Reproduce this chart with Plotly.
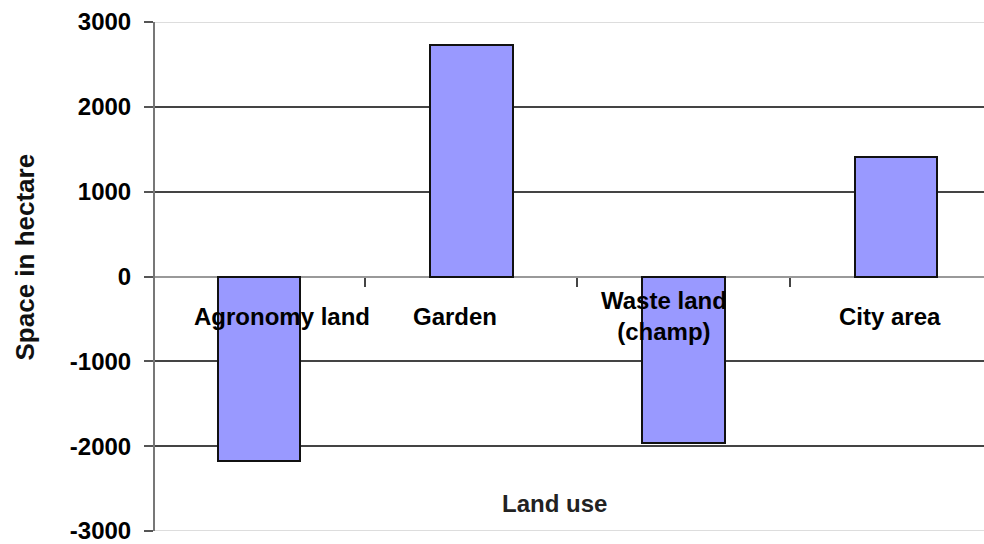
import plotly.graph_objects as go

categories = ["Agronomy land", "Garden", "Waste land<br>(champ)", "City area"]
values = [-2180, 2730, -1965, 1410]
y_ticks = [-3000, -2000, -1000, 0, 1000, 2000, 3000]
y_ticktext = ["-3000", "-2000", "-1000", "0", "1000", "2000", "3000"]
y_title = "Space in hectare"
x_title = "Land use"

FONT = "Liberation Sans, Arial, Helvetica, sans-serif"

fig = go.Figure()
fig.add_trace(go.Bar(
    x=categories, y=values, width=0.39,
    marker=dict(color="#9999FF", line=dict(color="#111111", width=2)),
    showlegend=False, hoverinfo="skip",
))

# category labels placed near zero line like original
label_shift = [23, -16, -20, -6]
for i, (c, s) in enumerate(zip(categories, label_shift)):
    fig.add_annotation(x=i, y=-470, xref="x", yref="y", text=c, showarrow=False,
                       xshift=s, yanchor="middle", xanchor="center",
                       font=dict(family=FONT, size=24, color="#000", weight="bold"))

fig.add_annotation(x=0.4825, y=-2670, xref="paper", yref="y", text=x_title,
                   showarrow=False, xanchor="center", yanchor="middle",
                   font=dict(family=FONT, size=24, color="#222", weight="bold"))
fig.add_annotation(x=-0.157, y=0.539, xref="paper", yref="paper", text=y_title,
                   textangle=-90, showarrow=False, xanchor="center", yanchor="middle",
                   font=dict(family=FONT, size=26, color="#111", weight="bold"))

for yy in (y_ticks[0], y_ticks[-1]):
    fig.add_shape(type="line", xref="paper", yref="y", x0=0, x1=1, y0=yy, y1=yy,
                  line=dict(color="#dddddd", width=2), layer="below")

fig.update_layout(
    width=984, height=544,
    margin=dict(l=155, r=0, t=22, b=13, autoexpand=False),
    paper_bgcolor="white", plot_bgcolor="white",
    bargap=0,
    xaxis=dict(type="category", range=[-0.49, 3.415], showticklabels=False,
               tickson="boundaries", ticks="outside", ticklen=9, tickwidth=2,
               tickcolor="#444", showgrid=False, zeroline=False, showline=False,
               anchor="free", position=0.5, automargin=False),
    yaxis=dict(range=[-3000, 3000], tickvals=y_ticks, ticktext=y_ticktext,
               ticks="outside", ticklen=9, ticklabelstandoff=8,
               ticklabeloverflow="allow", automargin=False,
               tickwidth=2, tickcolor="#555", showline=True, linecolor="#777", linewidth=2,
               showgrid=True, gridcolor="#444", gridwidth=2,
               zeroline=True, zerolinecolor="#999", zerolinewidth=2,
               tickfont=dict(family=FONT, size=24, color="#000", weight="bold")),
)

fig.write_html("out.html")
